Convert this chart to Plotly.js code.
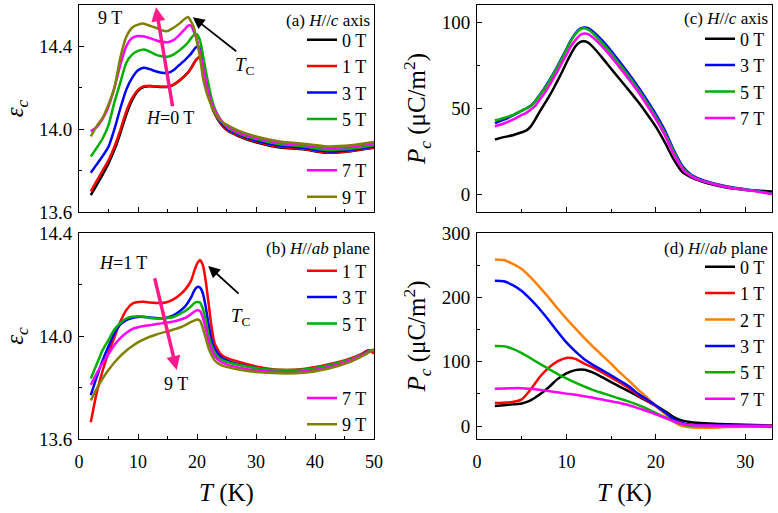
<!DOCTYPE html>
<html><head><meta charset="utf-8">
<script src="https://cdn.plot.ly/plotly-3.0.1.min.js"></script>
<style>html,body{margin:0;padding:0;background:#fff}#chart{width:778px;height:513px}</style>
</head><body><div id="chart"></div>
<script>
// ---------- Panel (a): eps_c vs T, H // c ----------
const T_a = [2,3,4,5,6,7,8,9,10,11,12,13,14,15,16,17,18,18.5,19,19.5,20,20.5,21,21.5,22,22.5,23,24,25,27,30,34,38,42,46,50];
const epsA_0T = [13.682,13.73,13.78,13.835,13.90,13.98,14.07,14.14,14.185,14.205,14.208,14.206,14.204,14.204,14.214,14.234,14.26,14.275,14.295,14.32,14.34,14.348,14.31,14.235,14.165,14.11,14.075,14.027,13.997,13.967,13.937,13.912,13.903,13.886,13.893,13.91];
const epsA_1T = [13.70,13.75,13.80,13.85,13.915,13.995,14.085,14.15,14.19,14.208,14.21,14.207,14.205,14.205,14.215,14.235,14.26,14.275,14.295,14.32,14.34,14.35,14.31,14.24,14.17,14.115,14.08,14.03,14.0,13.97,13.94,13.915,13.905,13.887,13.895,13.912];
const epsA_3T = [13.79,13.83,13.87,13.915,14.0,14.10,14.19,14.248,14.285,14.297,14.29,14.28,14.273,14.272,14.285,14.31,14.335,14.35,14.365,14.385,14.40,14.39,14.33,14.25,14.18,14.125,14.085,14.035,14.005,13.975,13.945,13.92,13.91,13.893,13.90,13.917];
const epsA_5T = [13.868,13.91,13.955,14.02,14.13,14.225,14.32,14.36,14.378,14.385,14.375,14.36,14.352,14.35,14.36,14.38,14.405,14.42,14.44,14.455,14.458,14.43,14.36,14.28,14.21,14.145,14.10,14.045,14.012,13.98,13.952,13.927,13.917,13.90,13.905,13.922];
const epsA_7T = [13.99,14.01,14.05,14.11,14.20,14.31,14.40,14.44,14.45,14.448,14.44,14.43,14.422,14.42,14.43,14.455,14.485,14.50,14.50,14.47,14.43,14.37,14.30,14.23,14.17,14.125,14.09,14.045,14.015,13.985,13.958,13.935,13.925,13.91,13.915,13.932];
const epsA_9T = [13.965,14.015,14.055,14.12,14.20,14.345,14.445,14.49,14.505,14.51,14.50,14.49,14.478,14.474,14.49,14.51,14.535,14.542,14.52,14.49,14.42,14.35,14.25,14.19,14.145,14.11,14.08,14.04,14.022,13.993,13.965,13.941,13.93,13.917,13.922,13.938];

// ---------- Panel (b): eps_c vs T, H // ab ----------
const T_b = [2,3,4,5,6,7,8,9,10,11,12,13,14,15,16,17,18,19,19.5,20,20.5,21,21.5,22,22.5,23,24,25,27,30,34,38,42,46,48,49,50];
const epsB_1T = [13.665,13.78,13.865,13.935,13.995,14.055,14.10,14.125,14.132,14.133,14.13,14.128,14.128,14.132,14.142,14.158,14.18,14.215,14.25,14.28,14.295,14.275,14.21,14.12,14.03,13.97,13.93,13.915,13.90,13.882,13.869,13.872,13.888,13.913,13.932,13.945,13.932];
const epsB_3T = [13.77,13.84,13.905,13.96,14.01,14.045,14.062,14.07,14.074,14.074,14.072,14.07,14.068,14.072,14.08,14.095,14.115,14.15,14.175,14.19,14.188,14.165,14.11,14.04,13.98,13.95,13.92,13.905,13.89,13.876,13.865,13.868,13.884,13.908,13.928,13.942,13.945];
const epsB_5T = [13.835,13.89,13.945,13.985,14.025,14.05,14.068,14.075,14.077,14.075,14.07,14.068,14.067,14.07,14.074,14.085,14.097,14.115,14.127,14.132,14.13,14.105,14.06,14.0,13.96,13.935,13.91,13.90,13.888,13.876,13.868,13.87,13.885,13.91,13.928,13.94,13.948];
const epsB_7T = [13.81,13.855,13.895,13.93,13.965,13.992,14.012,14.027,14.034,14.039,14.042,14.046,14.049,14.052,14.056,14.062,14.07,14.085,14.094,14.10,14.097,14.07,14.025,13.975,13.945,13.922,13.90,13.89,13.878,13.866,13.86,13.862,13.878,13.905,13.926,13.936,13.945];
const epsB_9T = [13.75,13.795,13.835,13.868,13.897,13.922,13.943,13.96,13.975,13.987,13.997,14.005,14.012,14.018,14.025,14.032,14.042,14.055,14.06,14.064,14.06,14.03,13.99,13.95,13.925,13.905,13.888,13.88,13.87,13.86,13.855,13.857,13.872,13.90,13.922,13.935,13.948];

// ---------- Panel (c): P_c vs T, H // c ----------
const T_c = [2,3,4,5,5.5,6,6.5,7,7.5,8,8.5,9,9.5,10,10.5,11,11.5,12,12.5,13,14,15,16,17,18,19,20,21,22,23,24,25,26,28,30,32,33];
const PC_0T = [32,33.4,34.5,36.2,37.2,39.5,43.5,48,52.3,56.5,61,66,71,76.5,81.5,86,88.5,89,88,85.5,79.5,73,66.8,60.5,54,47,39.5,30.5,20.5,13,10,8,6.3,4,2.8,2.2,1.9];
const PC_3T = [41.5,43.5,46,48.7,50,51.6,54.2,57.8,61.5,65.5,70,74.5,79.5,84.5,89.5,93.5,96.2,97,96.5,94.5,89.5,83.5,76.8,70,62.8,55,46.8,37.5,26,16.5,11.5,9,7.3,4.8,3.2,1.6,0.6];
const PC_5T = [43,44.5,46.2,48.8,50,51.5,54,57.5,61,65,69.5,74,79,84,89,93,95.7,96.5,95.5,93.5,88,82,75.3,68.5,61.3,53.5,45.3,36,25,15.5,11,8.5,7,4.5,3,1.5,0.6];
const PC_7T = [39.7,41.3,43.5,46.3,47.5,49.3,51.5,55,58.5,62.5,67,71.5,76.5,81,86,89.5,92.5,93.5,93,91,86,80,73.5,66.8,59.8,52,43.8,34.5,23.5,15,10.5,8.3,6.8,4.4,2.9,1.3,0.5];

// ---------- Panel (d): P_c vs T, H // ab ----------
const T_d = [2,3,4,5,6,7,8,9,10,11,12,13,14,15,16,17,18,19,20,21,22,23,24,25,26,28,30,33];
const PD_0T = [31.1,32.5,33.8,35.2,40,49,60,73,82,87,87.5,83,76,68.5,61,54,46.5,39,32,23.5,14,8.5,6,4.8,4,3,2.2,1];
const PD_1T = [35.8,36.2,37.5,41.5,57,76,90.5,100.5,106,104.5,97,91,83.5,75.5,67.5,59,48.5,40,31,21,9.5,2,0,-0.5,-0.5,0,0,0];
const PD_2T = [259,258,252,244,231,216,200,183,167,152,137,123,110,97,83,70.5,57,44.5,31.5,19.5,7,0,-2,-2.6,-2.6,-1.5,-1,-0.5];
const PD_3T = [226,225,219,210,197,182,165,147,130,116,104,95,87,79,70.5,62,50.5,41.5,32,21.5,11,4.5,2,1.5,1,0.8,0.5,0];
const PD_5T = [124.4,124,120,113.5,105.5,97,89,81,74,67.5,61.5,56,51.5,47,42.5,38,33,27,20.5,14,7.5,2.5,0.5,0,0,0,0,0];
const PD_7T = [58,58.5,59,59,58,56.5,54.5,52.5,50.5,48.8,46.5,44,41.3,38.5,35.8,32.5,28,23.5,18.5,13,7.5,3.5,1.5,1,0.8,0.6,0.5,0.5];

const FONT = '"Liberation Serif", "Times New Roman", Times, serif';
const COL = {'0 T':'#000000','1 T':'#ff0000','2 T':'#ff8000','3 T':'#0000ff','5 T':'#00b000','7 T':'#ff00ff','9 T':'#808000'};
const LW = 2.5;

function tr(x, y, name, xa, ya, leg, grp) {
  return {type:'scatter', mode:'lines', x:x, y:y, name:name, xaxis:xa, yaxis:ya,
    legend:leg, legendgroup:grp, line:{color:COL[name], width:LW, shape:'spline', smoothing:0.6}};
}

const data = [
  tr(T_a, epsA_0T, '0 T', 'x', 'y', 'legend', 'a1'),
  tr(T_a, epsA_1T, '1 T', 'x', 'y', 'legend', 'a1'),
  tr(T_a, epsA_3T, '3 T', 'x', 'y', 'legend', 'a1'),
  tr(T_a, epsA_5T, '5 T', 'x', 'y', 'legend', 'a1'),
  tr(T_a, epsA_7T, '7 T', 'x', 'y', 'legend', 'a2'),
  tr(T_a, epsA_9T, '9 T', 'x', 'y', 'legend', 'a2'),
  tr(T_b, epsB_1T, '1 T', 'x2', 'y2', 'legend2', 'b1'),
  tr(T_b, epsB_3T, '3 T', 'x2', 'y2', 'legend2', 'b1'),
  tr(T_b, epsB_5T, '5 T', 'x2', 'y2', 'legend2', 'b1'),
  tr(T_b, epsB_7T, '7 T', 'x2', 'y2', 'legend2', 'b2'),
  tr(T_b, epsB_9T, '9 T', 'x2', 'y2', 'legend2', 'b2'),
  tr(T_c, PC_0T, '0 T', 'x3', 'y3', 'legend3', 'c1'),
  tr(T_c, PC_3T, '3 T', 'x3', 'y3', 'legend3', 'c1'),
  tr(T_c, PC_5T, '5 T', 'x3', 'y3', 'legend3', 'c1'),
  tr(T_c, PC_7T, '7 T', 'x3', 'y3', 'legend3', 'c1'),
  tr(T_d, PD_0T, '0 T', 'x4', 'y4', 'legend4', 'd1'),
  tr(T_d, PD_1T, '1 T', 'x4', 'y4', 'legend4', 'd1'),
  tr(T_d, PD_2T, '2 T', 'x4', 'y4', 'legend4', 'd1'),
  tr(T_d, PD_3T, '3 T', 'x4', 'y4', 'legend4', 'd1'),
  tr(T_d, PD_5T, '5 T', 'x4', 'y4', 'legend4', 'd1'),
  tr(T_d, PD_7T, '7 T', 'x4', 'y4', 'legend4', 'd1')
];

const W = 778, H = 513;
const px = v => v / W, py = v => 1 - v / H;
const dxL = [px(79), px(374)], dxR = [px(477), px(772)];
const dyT = [py(212), py(5)], dyB = [py(439), py(233)];

function xax(dom, anchor, range, showLabels, title) {
  const o = {domain:dom, anchor:anchor, range:range, dtick:10, tick0:0,
    ticks:'inside', ticklen:5, tickwidth:1, tickcolor:'#000',
    minor:{ticks:'inside', ticklen:3, dtick:5, tickcolor:'#000'},
    showline:true, mirror:true, linecolor:'#000', linewidth:1,
    showgrid:false, zeroline:false, showticklabels:showLabels,
    tickfont:{family:FONT, size:18, color:'#000'}, ticklabelstandoff:6};
  if (title) o.title = {text:title, font:{family:FONT, size:25, color:'#000'}, standoff:12};
  return o;
}
function yax(dom, anchor, range, dtick, minor, fmt, title) {
  return {domain:dom, anchor:anchor, range:range, dtick:dtick, tick0:range[0] < 0 ? 0 : range[0],
    ticks:'inside', ticklen:5, tickwidth:1, tickcolor:'#000',
    minor:{ticks:'inside', ticklen:3, dtick:minor, tickcolor:'#000'},
    showline:true, mirror:true, linecolor:'#000', linewidth:1,
    showgrid:false, zeroline:false, tickformat:fmt,
    tickfont:{family:FONT, size:19, color:'#000'}, ticklabelstandoff:2,
    title:{text:title, font:{family:FONT, size:25, color:'#000'}, standoff:8}};
}

const EPS = '<i>ε</i><sub><i>c</i></sub>';
const PC = '<i>P</i><sub><i>c</i></sub> (μC/m<sup>2</sup>)';
const TK = '<i>T</i> (K)';

function leg(xr, ytop, gap) {
  return {x:px(xr), y:py(ytop), xanchor:'right', yanchor:'top', bgcolor:'rgba(0,0,0,0)',
    borderwidth:0, font:{family:FONT, size:18, color:'#000'}, tracegroupgap:gap, itemwidth:30};
}

const txt = (text, xref, yref, x, y, size) => ({text:text, xref:xref, yref:yref, x:x, y:y,
  showarrow:false, font:{family:FONT, size:size || 18, color:'#000'}});
const arrow = (xref, yref, x, y, ax, ay, color, w, size) => ({text:'', xref:xref, yref:yref,
  axref:xref, ayref:yref, x:x, y:y, ax:ax, ay:ay, showarrow:true, arrowhead:2,
  arrowsize:size, arrowwidth:w, arrowcolor:color, standoff:0, startstandoff:0});
const head = (text, xr, yc) => ({text:text, xref:'paper', yref:'paper', x:px(xr), y:py(yc),
  xanchor:'right', yanchor:'middle', showarrow:false, font:{family:FONT, size:17, color:'#000'}});

const PINK = '#ff1a8c';
const layout = {
  width:W, height:H, margin:{l:0, r:0, t:0, b:0},
  paper_bgcolor:'#fff', plot_bgcolor:'#fff', font:{family:FONT, color:'#000'},
  showlegend:true,
  xaxis: xax(dxL, 'y', [0,50], false, null),
  yaxis: yax(dyT, 'x', [13.6,14.6], 0.4, 0.2, '.1f', EPS),
  xaxis2: xax(dxL, 'y2', [0,50], true, TK),
  yaxis2: yax(dyB, 'x2', [13.6,14.4], 0.4, 0.2, '.1f', EPS),
  xaxis3: xax(dxR, 'y3', [0,33], false, null),
  yaxis3: yax(dyT, 'x3', [-10,110], 50, 25, 'd', PC),
  xaxis4: xax(dxR, 'y4', [0,33], true, TK),
  yaxis4: yax(dyB, 'x4', [-20,300], 100, 50, 'd', PC),
  legend: leg(372, 21.5, 25),
  legend2: leg(372, 252.5, 48),
  legend3: leg(770, 20.5, 10),
  legend4: leg(770, 248.5, 10),
  annotations: [
    head('(a) <i>H</i>//<i>c</i> axis', 372, 20),
    head('(b) <i>H</i>//<i>ab</i> plane', 372, 248),
    head('(c) <i>H</i>//<i>c</i> axis', 770, 19),
    head('(d) <i>H</i>//<i>ab</i> plane', 770, 248),
    arrow('x', 'y', 13.05, 14.589, 15.9, 14.104, PINK, 3.5, 0.8),
    arrow('x', 'y', 19.3, 14.541, 26.9, 14.371, '#000', 1.8, 1.3),
    txt('9 T', 'x', 'y', 5.25, 14.538),
    txt('<i>H</i>=0 T', 'x', 'y', 15.4, 14.056),
    txt('<i>T</i><sub>C</sub>', 'x', 'y', 28.2, 14.305, 19),
    arrow('x2', 'y2', 16.55, 13.868, 12.77, 14.23, PINK, 3.5, 0.8),
    arrow('x2', 'y2', 21.9, 14.272, 27.3, 14.159, '#000', 1.8, 1.3),
    txt('<i>H</i>=1 T', 'x2', 'y2', 7.5, 14.283),
    txt('9 T', 'x2', 'y2', 16.4, 13.814),
    txt('<i>T</i><sub>C</sub>', 'x2', 'y2', 27.4, 14.075, 19)
  ]
};

Plotly.newPlot('chart', data, layout, {displayModeBar:false, staticPlot:true});
</script>
</body></html>
